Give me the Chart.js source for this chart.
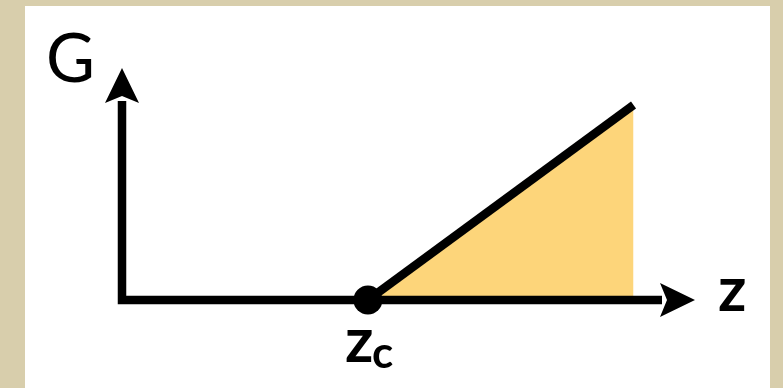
<!DOCTYPE html>
<html>
<head>
<meta charset="utf-8">
<script src="https://cdn.jsdelivr.net/npm/chart.js@4/dist/chart.umd.min.js"></script>
<style>
  html, body { margin: 0; padding: 0; }
  body {
    width: 783px; height: 388px; overflow: hidden; position: relative;
    background: #d8ceac;
  }
  #panel { position: absolute; left: 25px; top: 6px; width: 745px; height: 400px; background: #fff; }
  #wrap { position: absolute; left: 0; top: 0; width: 783px; height: 388px; }
</style>
</head>
<body>
<div id="panel"></div>
<div id="wrap"><canvas id="chart" width="783" height="388"></canvas></div>
<script>
// sumbu z (horizontal) dan G (vertikal)
const zValues = [1.0, 2.08];   // mulai di z_c, naik secara linear
const gValues = [0, 1.0];
const zCritical = 1.0;
const zAxisMax = 2.33;         // ujung panah sumbu z
const gAxisMax = 1.19;         // ujung panah sumbu G

const axisLabels = { y: "G", x: "z", crit: "z", critSub: "c" };

const fillColor = "rgb(253, 213, 122)";

// Plugin untuk menggambar sumbu dengan panah dan label
const axesPlugin = {
    id: "axesArrows",
    afterDatasetDraw: (chart, args) => {
        if (args.index !== 1) return;
        const { ctx, scales } = chart;
        const x0 = scales.x.getPixelForValue(0);
        const y0 = scales.y.getPixelForValue(0);
        const xEnd = scales.x.getPixelForValue(zAxisMax);
        const yEnd = scales.y.getPixelForValue(gAxisMax);
        const head = 35, half = 17;

        ctx.save();
        ctx.strokeStyle = "#000";
        ctx.fillStyle = "#000";
        ctx.lineWidth = 8.5;
        ctx.lineJoin = "miter";
        ctx.beginPath();
        ctx.moveTo(x0, yEnd + head - 2);
        ctx.lineTo(x0, y0);
        ctx.lineTo(xEnd - head + 2, y0);
        ctx.stroke();

        // panah atas
        ctx.beginPath();
        ctx.moveTo(x0, yEnd);
        ctx.lineTo(x0 - half, yEnd + head);
        ctx.lineTo(x0, yEnd + head - 7);
        ctx.lineTo(x0 + half, yEnd + head);
        ctx.closePath();
        ctx.fill();

        // panah kanan
        ctx.beginPath();
        ctx.moveTo(xEnd, y0);
        ctx.lineTo(xEnd - head, y0 - half);
        ctx.lineTo(xEnd - head + 7, y0);
        ctx.lineTo(xEnd - head, y0 + half);
        ctx.closePath();
        ctx.fill();
        ctx.restore();
    },
    afterDraw: (chart) => {
        const { ctx, scales } = chart;
        const x0 = scales.x.getPixelForValue(0);
        const y0 = scales.y.getPixelForValue(0);
        const xEnd = scales.x.getPixelForValue(zAxisMax);
        const yEnd = scales.y.getPixelForValue(gAxisMax);
        const xc = scales.x.getPixelForValue(zCritical);

        ctx.save();
        ctx.fillStyle = "#000";
        ctx.textBaseline = "alphabetic";
        ctx.textAlign = "left";
        ctx.font = "400 67px Lato";
        ctx.fillText(axisLabels.y, x0 - 76, yEnd + 14);
        ctx.font = "700 62px Lato";
        ctx.fillText(axisLabels.x, xEnd + 23, y0 + 11);
        ctx.fillText(axisLabels.crit, xc - 23, y0 + 62);
        ctx.font = "700 44px Lato";
        ctx.fillText(axisLabels.critSub, xc + 4, y0 + 68);
        ctx.restore();
    },
};

const ctx = document.getElementById("chart").getContext("2d");

new Chart(ctx, {
    type: "scatter",
    data: {
        datasets: [
            {
                label: "z_c",
                data: [{ x: zCritical, y: 0 }],
                pointRadius: 14.5,
                pointBackgroundColor: "#000",
                pointBorderWidth: 0,
                clip: false,
            },
            {
                label: "G",
                data: zValues.map((z, i) => ({ x: z, y: gValues[i] })),
                showLine: true,
                borderColor: "#000",
                borderWidth: 8.5,
                borderCapStyle: "butt",
                backgroundColor: fillColor,
                fill: "origin",
                pointRadius: 0,
                clip: false,
            },
        ],
    },
    options: {
        responsive: false,
        animation: false,
        layout: { padding: { left: 122, right: 88, top: 68, bottom: 88 } },
        plugins: {
            legend: { display: false },
            tooltip: { enabled: false },
        },
        scales: {
            x: { type: "linear", min: 0, max: zAxisMax, display: false },
            y: { type: "linear", min: 0, max: gAxisMax, display: false },
        },
    },
    plugins: [axesPlugin],
});
</script>
</body>
</html>
